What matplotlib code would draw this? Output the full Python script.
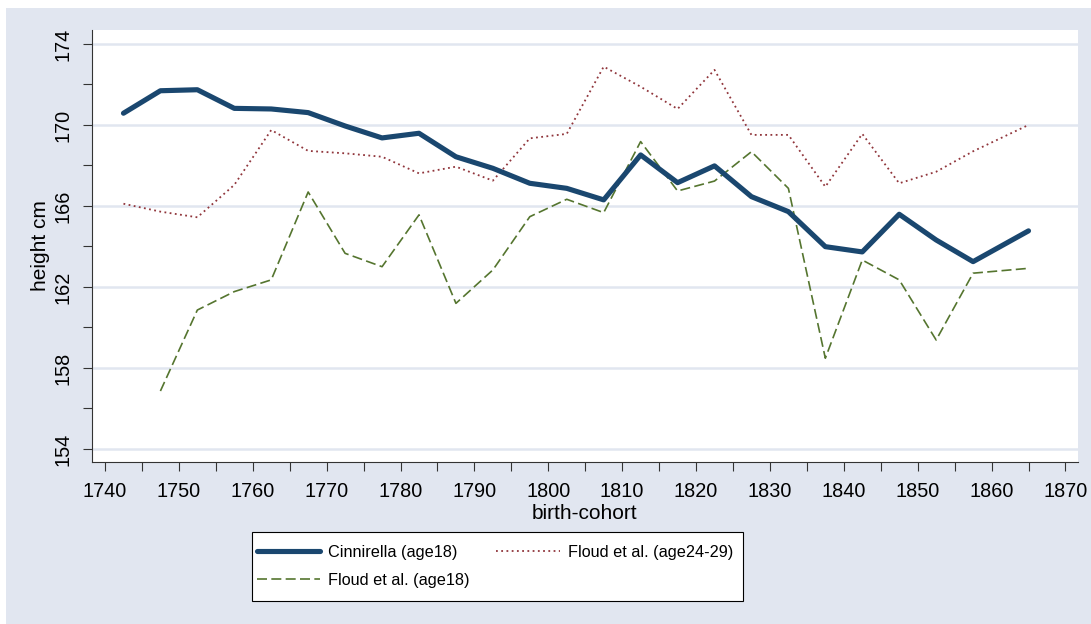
import matplotlib
matplotlib.use("Agg")
import matplotlib.pyplot as plt
from matplotlib.patches import Rectangle

plt.rcParams['font.family'] = ['Liberation Sans', 'DejaVu Sans']

# birth cohorts (mid-points of 5-year groups, last group wider)
cohorts = [1742.5, 1747.5, 1752.5, 1757.5, 1762.5, 1767.5, 1772.5, 1777.5,
           1782.5, 1787.5, 1792.5, 1797.5, 1802.5, 1807.5, 1812.5, 1817.5,
           1822.5, 1827.5, 1832.5, 1837.5, 1842.5, 1847.5, 1852.5, 1857.5,
           1865.0]

cinnirella_18 = [170.58, 171.69, 171.74, 170.82, 170.79, 170.61, 169.95, 169.36,
                 169.59, 168.43, 167.86, 167.12, 166.87, 166.30, 168.52, 167.15,
                 167.98, 166.46, 165.72, 163.99, 163.73, 165.59, 164.32, 163.25,
                 164.77]

floud_24_29 = [166.11, 165.72, 165.44, 167.04, 169.75, 168.72, 168.60, 168.43,
               167.61, 167.94, 167.25, 169.34, 169.56, 172.88, 171.89, 170.79,
               172.72, 169.51, 169.51, 166.95, 169.56, 167.12, 167.69, 168.70,
               170.00]

# no value for the first cohort
floud_18_cohorts = cohorts[1:]
floud_18 = [156.86, 160.86, 161.77, 162.35, 166.69, 163.66, 163.00,
            165.56, 161.19, 162.84, 165.47, 166.33, 165.67, 169.18, 166.74,
            167.23, 168.68, 166.87, 158.48, 163.33, 162.35, 159.38, 162.68,
            162.92]

x_major = [1740, 1750, 1760, 1770, 1780, 1790, 1800, 1810, 1820, 1830, 1840,
           1850, 1860, 1870]
x_minor = [1745, 1755, 1765, 1775, 1785, 1795, 1805, 1815, 1825, 1835, 1845,
           1855, 1865]
y_major = [154, 158, 162, 166, 170, 174]
y_minor = [156, 160, 164, 168, 172]

labels = ['Cinnirella (age18)', 'Floud et al. (age18)', 'Floud et al. (age24-29)']

W, H = 1091, 624
bg = '#E1E6F0'
navy = '#1A476F'
maroon = '#90353B'
green = '#55752F'

fig = plt.figure(figsize=(W / 100, H / 100), dpi=100, facecolor='white')
fig.patches.append(Rectangle((6 / W, 0), 1 - 6 / W, 1 - 8 / H,
                             transform=fig.transFigure, facecolor=bg,
                             edgecolor='none', zorder=-10))

left, right, top, bottom = 91.7, 1078, 30, 461.7
ax = fig.add_axes([left / W, 1 - bottom / H, (right - left) / W, (bottom - top) / H])
ax.set_facecolor('white')

l1, = ax.plot(cohorts, cinnirella_18, color=navy, lw=3.7,
              solid_joinstyle='round', solid_capstyle='round', zorder=3)
l2, = ax.plot(cohorts, floud_24_29, color=maroon, lw=1.3,
              linestyle=(0, (1, 1.9)), zorder=2)
l3, = ax.plot(floud_18_cohorts, floud_18, color=green, lw=1.2,
              linestyle=(0, (6.0, 2.6)), zorder=2)

ax.set_xlim(1738.2, 1871.7)
ax.set_ylim(153.37, 174.69)
ax.set_xticks(x_major)
ax.set_xticks(x_minor, minor=True)
ax.set_yticks(y_major)
ax.set_yticks(y_minor, minor=True)

ax.grid(axis='y', which='major', color='#E1E6F0', lw=1.8, zorder=0)
ax.set_axisbelow(True)

for s in ['top', 'right']:
    ax.spines[s].set_visible(False)
for s in ['left', 'bottom']:
    ax.spines[s].set_color('#333333')
    ax.spines[s].set_linewidth(0.8)

ax.tick_params(which='both', length=6.5, width=0.8, color='#333333',
               labelsize=14.3, labelcolor='black')
ax.tick_params(axis='x', which='major', pad=8)
ax.tick_params(axis='y', which='major', pad=7.5)
for lab in ax.get_yticklabels():
    lab.set_rotation(90)
    lab.set_va('center')

ax.set_xlabel('birth-cohort', fontsize=15, labelpad=2)
ax.set_ylabel('height cm', fontsize=15, labelpad=2)

# legend box
fig.patches.append(Rectangle((251.7 / W, 1 - 601 / H), 491 / W, 68.7 / H,
                             transform=fig.transFigure, facecolor='white',
                             edgecolor='black', lw=0.8, zorder=5))
leg = fig.legend([l1, l3, l2], labels,
                 ncol=2, loc='upper left', bbox_to_anchor=(257 / W, 1 - 545 / H),
                 bbox_transform=fig.transFigure, frameon=False, fontsize=11.7,
                 borderpad=0, borderaxespad=0, handlelength=3.88,
                 handletextpad=0.5, columnspacing=1.65, labelspacing=0.77)
leg.set_zorder(6)

fig.savefig('out.png', dpi=100, facecolor='white')
